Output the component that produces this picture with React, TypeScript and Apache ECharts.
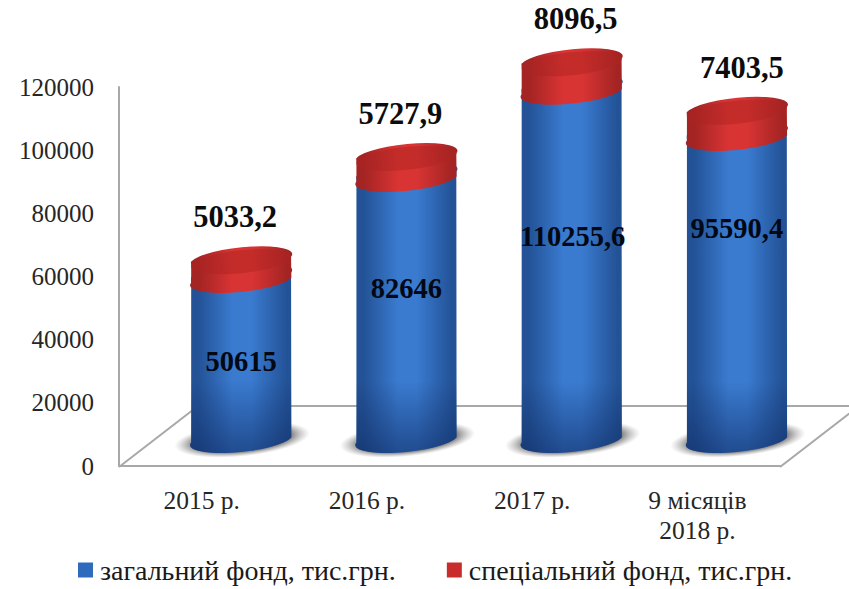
import React, { useEffect, useRef } from "react";
import * as echarts from "echarts";

const categories = ["2015 р.", "2016 р.", "2017 р.", "9 місяців\n2018 р."];
const generalFund = [50615, 82646, 110255.6, 95590.4];
const specialFund = [5033.2, 5727.9, 8096.5, 7403.5];
const generalLabels = ["50615", "82646", "110255,6", "95590,4"];
const specialLabels = ["5033,2", "5727,9", "8096,5", "7403,5"];
const yTicks = { min: 0, max: 120000, interval: 20000 };
const generalName = "загальний фонд, тис.грн.";
const specialName = "спеціальний фонд, тис.грн.";

const SERIF = '"Liberation Serif", "Times New Roman", serif';
const DEPTH_X = 39.5;
const DEPTH_Y = 17;
const RX = 50.2;
const RY = 11.5;
const TILT = 0.1;
const labelLift = [0.55, 0.615, 0.61, 0.73];
const labelNudge = [-6, -6, 4, 5];

const hGrad = (a: string, b: string) => ({
  type: "linear", x: 0, y: 0, x2: 1, y2: 0,
  colorStops: [
    { offset: 0, color: a }, { offset: 0.08, color: a },
    { offset: 0.42, color: b }, { offset: 0.6, color: b },
    { offset: 0.95, color: a }, { offset: 1, color: a },
  ],
});

function bodyPath(cx: number, cyBottom: number, cyTop: number) {
  const dx = RX * Math.cos(TILT);
  const dy = RX * Math.sin(TILT);
  const rot = (-TILT * 180) / Math.PI;
  return [
    `M ${cx - dx} ${cyTop + dy}`,
    `L ${cx - dx} ${cyBottom + dy}`,
    `A ${RX} ${RY} ${rot} 0 0 ${cx + dx} ${cyBottom - dy}`,
    `L ${cx + dx} ${cyTop - dy}`,
    `A ${RX} ${RY} ${rot} 0 0 ${cx - dx} ${cyTop + dy}`,
    "Z",
  ].join(" ");
}

const valueText = (x: number, y: number, text: string, fill: string, size: number) => ({
  type: "text", x, y, z2: 20,
  style: {
    text, fill, font: `bold ${size}px ${SERIF}`, align: "center", verticalAlign: "middle",
  },
});

function renderFloor(params: any) {
  const g = params.coordSys;
  const left = g.x;
  const right = g.x + g.width;
  const front = g.y + g.height;
  const back = front - 60;
  const run = 79;
  const stroke = { stroke: "#a8a8a8", lineWidth: 2, fill: "none" };
  return {
    type: "group",
    children: [
      { type: "polygon", shape: { points: [[left, front], [left + run, back], [right + run, back], [right, front]] }, style: { fill: "#ffffff" } },
      { type: "polyline", shape: { points: [[left, front + 1], [left + run, back]] }, style: stroke },
      { type: "polyline", shape: { points: [[left + run, back], [right + run, back], [right, front + 1]] }, style: stroke },
    ],
  };
}

function renderGeneral(_: any, api: any) {
  const i = api.value(0);
  const zero = api.coord([i, 0]);
  const top = api.coord([i, api.value(1)]);
  const cx = zero[0] + DEPTH_X;
  const cyBottom = zero[1] - DEPTH_Y - RY;
  const cyTop = top[1] - DEPTH_Y - RY;
  const d = bodyPath(cx, cyBottom, cyTop);
  const frontBottom = zero[1] - DEPTH_Y;
  const labelY = frontBottom - (frontBottom - (top[1] - DEPTH_Y)) * labelLift[i];
  return {
    type: "group",
    children: [
      {
        type: "ellipse", x: cx + 1, y: cyBottom + 2, rotation: TILT,
        shape: { cx: 0, cy: 0, rx: 68, ry: 17 },
        style: {
          fill: {
            type: "radial", x: 0.5, y: 0.5, r: 0.5,
            colorStops: [
              { offset: 0, color: "rgba(60,60,60,0.9)" },
              { offset: 0.7, color: "rgba(70,70,70,0.75)" },
              { offset: 1, color: "rgba(140,140,140,0)" },
            ],
          },
        },
      },
      { type: "path", shape: { pathData: d }, style: { fill: hGrad("#235296", "#3a7bd0") } },
      {
        type: "path", shape: { pathData: d },
        style: {
          fill: {
            type: "linear", x: 0, y: 0, x2: 0, y2: 1,
            colorStops: [
              { offset: 0, color: "rgba(16,44,100,0)" },
              { offset: Math.max(0, 1 - 70 / (cyBottom - cyTop + 2 * RY)), color: "rgba(16,44,100,0)" },
              { offset: 1, color: "rgba(16,44,100,0.6)" },
            ],
          },
        },
      },
      valueText(cx + (i === 2 ? 1 : 0), labelY, generalLabels[i], "#020814", 28.5),
    ],
  };
}

function renderSpecial(_: any, api: any) {
  const i = api.value(0);
  const base = api.coord([i, api.value(1)]);
  const top = api.coord([i, api.value(1) + api.value(2)]);
  const cx = base[0] + DEPTH_X;
  const cyBottom = base[1] - DEPTH_Y - RY;
  const cyTop = top[1] - DEPTH_Y - RY;
  return {
    type: "group",
    children: [
      { type: "path", shape: { pathData: bodyPath(cx, cyBottom, cyTop) }, style: { fill: hGrad("#a32423", "#d93434") } },
      {
        type: "ellipse", x: cx, y: cyTop, rotation: TILT,
        shape: { cx: 0, cy: 0, rx: RX, ry: RY },
        style: { fill: hGrad("#a82423", "#c42c2a") },
      },
      valueText(cx + labelNudge[i], cyTop - RY - 33, specialLabels[i], "#0c0c0c", 30.5),
    ],
  };
}

export default function App() {
  const ref = useRef<HTMLDivElement>(null);
  useEffect(() => {
    const chart = echarts.init(ref.current!, null, { renderer: "svg" });
    chart.setOption({
      animation: false,
      backgroundColor: "#ffffff",
      grid: { left: 119, top: 87, width: 661, height: 379, containLabel: false },
      xAxis: {
        type: "category",
        data: categories,
        axisLine: { show: true, lineStyle: { color: "#a8a8a8", width: 2 } },
        axisTick: { show: false },
        axisLabel: { fontFamily: SERIF, fontSize: 25.5, color: "#262626", margin: 19, lineHeight: 30, interval: 0 },
        z: 5,
      },
      yAxis: {
        type: "value",
        min: yTicks.min,
        max: yTicks.max,
        interval: yTicks.interval,
        splitLine: { show: false },
        axisLine: { show: true, lineStyle: { color: "#a8a8a8", width: 2 } },
        axisTick: { show: false },
        axisLabel: { fontFamily: SERIF, fontSize: 25, color: "#262626", margin: 25, formatter: (v: number) => String(v) },
      },
      legend: {
        left: 73,
        top: 551,
        itemWidth: 15,
        itemHeight: 15,
        itemGap: 51,
        icon: "rect",
        data: [generalName, specialName],
        textStyle: { fontFamily: SERIF, fontSize: 28, color: "#1a1a1a", padding: [0, 0, 0, 2] },
      },
      series: [
        { type: "custom", name: "floor", clip: false, silent: true, z: 1, renderItem: renderFloor, data: [[0, 0]] },
        {
          type: "custom", name: generalName, clip: false, z: 2, renderItem: renderGeneral,
          itemStyle: { color: "#2f6bbd" },
          encode: { x: 0, y: 1 },
          data: generalFund.map((v, i) => [i, v]),
        },
        {
          type: "custom", name: specialName, clip: false, z: 3, renderItem: renderSpecial,
          itemStyle: { color: "#c92d2b" },
          encode: { x: 0, y: 1 },
          data: specialFund.map((v, i) => [i, generalFund[i], v]),
        },
      ],
    });
    return () => chart.dispose();
  }, []);
  return <div ref={ref} style={{ position: "absolute", left: 0, top: 0, width: 849, height: 589 }} />;
}
